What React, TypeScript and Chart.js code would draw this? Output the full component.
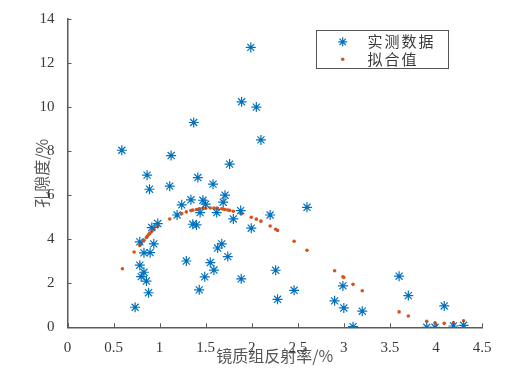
import React, { useEffect, useRef } from "react";
import { Chart, registerables } from "chart.js";

Chart.register(...registerables);

const xTitle = "镜质组反射率/%";
const yTitle = "孔隙度/%";
const seriesNames = ["实测数据", "拟合值"];

const measuredX = [
  1.99, 1.89, 2.05, 1.37, 2.1, 0.59, 1.125, 1.76, 0.864, 1.415, 0.89, 1.11, 1.58, 1.71, 1.69, 1.34,
  1.24, 1.47, 1.5, 1.44, 1.62, 1.19, 1.88, 1.8, 1.995, 2.2, 1.36, 1.4, 0.915, 0.98, 0.785, 0.937,
  0.83, 0.897, 1.675, 1.63, 1.74, 1.29, 1.55, 1.59, 1.49, 0.785, 0.83, 0.8, 0.857, 1.886, 2.26,
  2.28, 1.43, 0.88, 0.734, 2.6, 2.46, 2.9, 2.99, 3.0, 3.1, 3.2, 3.6, 3.7, 4.09, 3.9, 3.99, 4.19, 4.3,
];
const measuredY = [
  12.71, 10.24, 10.0, 9.3, 8.51, 8.04, 7.8, 7.41, 6.91, 6.8, 6.27, 6.41, 6.5, 6.0, 5.68, 5.79,
  5.56, 5.77, 5.59, 5.21, 5.21, 5.1, 5.3, 4.92, 4.5, 5.1, 4.68, 4.65, 4.53, 4.71, 3.88, 3.79,
  3.38, 3.39, 3.79, 3.6, 3.21, 3.01, 2.94, 2.6, 2.29, 2.82, 2.5, 2.3, 2.1, 2.2, 2.59,
  1.27, 1.7, 1.57, 0.91, 5.45, 1.68, 1.2, 1.88, 0.88, 0.03, 0.73, 2.32, 1.44, 0.97, 0.0, 0.0, 0.06, 0.09,
];

const fitX = [
  0.596, 0.723, 0.785, 0.8, 0.83, 0.857, 0.864, 0.88, 0.89, 0.897, 0.915, 0.937, 0.98, 1.11, 1.19,
  1.24, 1.29, 1.34, 1.36, 1.4, 1.43, 1.47, 1.5, 1.55, 1.59, 1.62, 1.63, 1.675, 1.69, 1.71, 1.74,
  1.76, 1.8, 1.88, 1.886, 1.89, 1.995, 2.05, 2.1, 2.2, 2.26, 2.28, 2.46, 2.6, 2.9, 2.99, 3.0, 3.1,
  3.2, 3.6, 3.7, 3.9, 3.99, 4.09, 4.19, 4.3,
];
const fitY = [
  2.66, 3.42, 3.72, 3.8, 3.95, 4.08, 4.12, 4.2, 4.25, 4.28, 4.36, 4.45, 4.58, 4.92, 5.08,
  5.17, 5.24, 5.3, 5.32, 5.35, 5.38, 5.4, 5.41, 5.42, 5.41, 5.4, 5.4, 5.38, 5.37, 5.35, 5.33,
  5.31, 5.27, 5.18, 5.17, 5.16, 5.0, 4.91, 4.82, 4.6, 4.45, 4.4, 3.91, 3.5, 2.57, 2.29, 2.26, 1.95,
  1.66, 0.7, 0.51, 0.27, 0.2, 0.18, 0.21, 0.3,
];

const BLUE = "#0072BD";
const ORANGE = "#D95319";
const AXIS = "#5a5a5a";
const TEXT = "#3a3a3a";
const SERIF = "'Liberation Serif', 'DejaVu Serif', serif";
const CJK = "'Noto Sans CJK SC', sans-serif";

function drawStar(ctx: CanvasRenderingContext2D, x: number, y: number, r: number) {
  ctx.beginPath();
  for (let i = 0; i < 4; i++) {
    const a = (Math.PI / 4) * i;
    ctx.moveTo(x - r * Math.cos(a), y - r * Math.sin(a));
    ctx.lineTo(x + r * Math.cos(a), y + r * Math.sin(a));
  }
  ctx.stroke();
}

const decorPlugin = {
  id: "decor",
  afterDraw(chart: any) {
    const ctx: CanvasRenderingContext2D = chart.ctx;
    const xs = chart.scales.x;
    const ys = chart.scales.y;
    const area = chart.chartArea;
    ctx.save();
    // inward ticks
    ctx.strokeStyle = AXIS;
    ctx.lineWidth = 1;
    ctx.beginPath();
    xs.ticks.forEach((t: any) => {
      const px = Math.round(xs.getPixelForValue(t.value)) + 0.5;
      ctx.moveTo(px, area.bottom);
      ctx.lineTo(px, area.bottom - 4);
    });
    ys.ticks.forEach((t: any) => {
      const py = Math.round(ys.getPixelForValue(t.value)) + 0.5;
      ctx.moveTo(area.left, py);
      ctx.lineTo(area.left + 4, py);
    });
    ctx.stroke();

    // legend box
    const bx = 316.5, by = 30.5, bw = 132, bh = 38;
    ctx.fillStyle = "#ffffff";
    ctx.fillRect(bx, by, bw, bh);
    ctx.strokeStyle = "#555555";
    ctx.lineWidth = 1;
    ctx.strokeRect(bx, by, bw, bh);
    const ds = chart.data.datasets;
    ctx.strokeStyle = BLUE;
    ctx.lineWidth = 1.2;
    drawStar(ctx, 342.7, 41.8, 4.5);
    ctx.fillStyle = ORANGE;
    ctx.beginPath();
    ctx.arc(342.7, 59.3, 1.8, 0, Math.PI * 2);
    ctx.fill();
    ctx.fillStyle = TEXT;
    ctx.font = `15px ${CJK}`;
    (ctx as any).letterSpacing = "2px";
    ctx.textBaseline = "middle";
    ctx.textAlign = "left";
    ctx.fillText(ds[0].label, 367.5, 41.5);
    ctx.fillText(ds[1].label, 367.5, 59);
    ctx.restore();
  },
};

export default function App() {
  const ref = useRef<HTMLCanvasElement | null>(null);
  useEffect(() => {
    if (!ref.current) return;
    const measured = measuredX.map((x, i) => ({ x, y: measuredY[i] }));
    const fit = fitX.map((x, i) => ({ x, y: fitY[i] }));
    const chart = new Chart(ref.current, {
      type: "scatter",
      data: {
        datasets: [
          {
            label: seriesNames[0],
            data: measured,
            pointStyle: "star",
            pointRadius: 5,
            borderColor: BLUE,
            backgroundColor: BLUE,
            borderWidth: 1.2,
          },
          {
            label: seriesNames[1],
            data: fit,
            pointStyle: "circle",
            pointRadius: 1.8,
            borderWidth: 0,
            backgroundColor: ORANGE,
            borderColor: ORANGE,
          },
        ],
      },
      options: {
        responsive: false,
        animation: false,
        layout: { padding: { top: 19, right: 45, left: 0, bottom: 0 } },
        plugins: { legend: { display: false }, tooltip: { enabled: false } },
        scales: {
          x: {
            type: "linear",
            min: 0,
            max: 4.5,
            grid: { display: false },
            border: { display: true, color: AXIS, width: 1.5 },
            ticks: {
              stepSize: 0.5,
              color: TEXT,
              font: { family: SERIF, size: 15 },
              padding: 4,
              maxRotation: 0,
              callback: (v: any) => String(v),
            },
            title: {
              display: true,
              text: xTitle,
              color: "#555555",
              font: { family: CJK, size: 16 },
              padding: { top: 0, bottom: 7 },
            },
            afterFit: (s: any) => {
              s.height = 45.7;
            },
          },
          y: {
            type: "linear",
            min: 0,
            max: 14,
            grid: { display: false },
            border: { display: true, color: AXIS, width: 1.5 },
            ticks: {
              stepSize: 2,
              color: TEXT,
              font: { family: SERIF, size: 15 },
              padding: 5,
            },
            title: {
              display: true,
              text: yTitle,
              color: "#555555",
              font: { family: CJK, size: 16 },
              padding: { top: 32, bottom: 0 },
            },
            afterFit: (s: any) => {
              s.width = 67.5;
            },
          },
        },
      },
      plugins: [decorPlugin],
    });
    return () => chart.destroy();
  }, []);
  return (
    <div style={{ position: "fixed", left: 0, top: 0, width: 527, height: 373, background: "#fff" }}>
      <canvas ref={ref} width={527} height={373} style={{ width: 527, height: 373 }} />
    </div>
  );
}
